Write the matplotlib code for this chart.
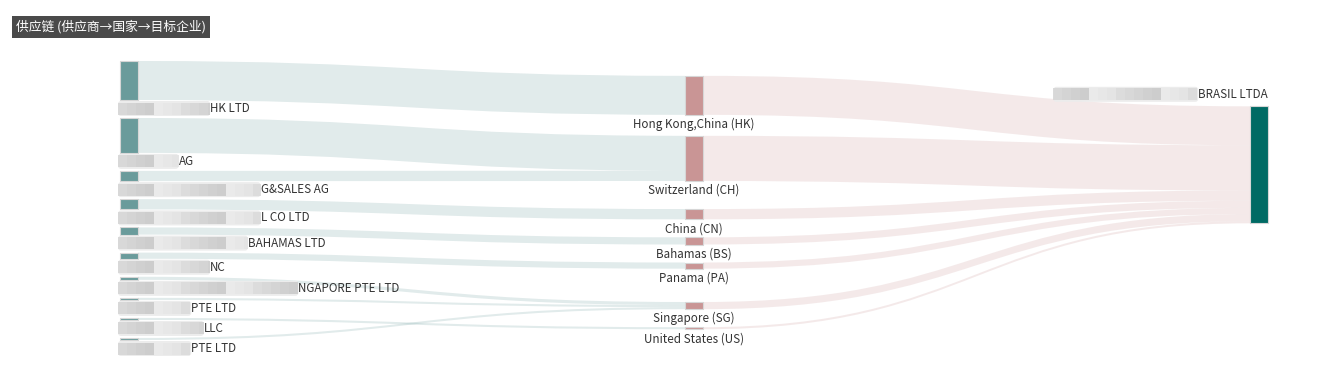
import matplotlib
matplotlib.use('Agg')
import matplotlib.pyplot as plt
from matplotlib.path import Path
from matplotlib.patches import PathPatch, Rectangle, FancyBboxPatch

plt.rcParams['font.family'] = ['Noto Sans CJK SC', 'DejaVu Sans']

# ---- data (supplier names are blurred in the source, only the tail is readable)
suppliers = ['HK LTD', 'AG', 'G&SALES AG', 'L CO LTD', 'BAHAMAS LTD', 'NC',
             'NGAPORE PTE LTD', 'PTE LTD', 'LLC', 'PTE LTD']
supplier_hidden = [14, 9, 22, 22, 20, 14, 28, 11, 13, 11]   # blurred leading chars
supplier_country = ['Hong Kong,China (HK)', 'Switzerland (CH)', 'Switzerland (CH)',
                    'China (CN)', 'Bahamas (BS)', 'Panama (PA)', 'Singapore (SG)',
                    'Singapore (SG)', 'United States (US)', 'Singapore (SG)']
supplier_value = [38, 34, 10, 10, 7, 6, 3, 2, 2, 2]
countries = ['Hong Kong,China (HK)', 'Switzerland (CH)', 'China (CN)', 'Bahamas (BS)',
             'Panama (PA)', 'Singapore (SG)', 'United States (US)']
target = 'BRASIL LTDA'
target_hidden = 23

# ---- style / layout
W, H = 1317, 391
TOP, BOTTOM = 61, 340
COL_X = [120, 685, 1250]
NODE_W = 18
GAP = 18
NODE_COLORS = ['#6a9b9b', '#c99595', '#006a64']
TEXT_C = '#333333'
FS = 8.4
CW = 6.3

# build graph
nodes = []
for i, s in enumerate(suppliers):
    nodes.append({'name': s, 'col': 0, 'value': supplier_value[i], 'idx': i})
cidx = {}
for c in countries:
    cidx[c] = len(nodes)
    nodes.append({'name': c, 'col': 1, 'value': 0})
tidx = len(nodes)
nodes.append({'name': target, 'col': 2, 'value': 0})

edges = []
for i, c in enumerate(supplier_country):
    edges.append([i, cidx[c], supplier_value[i]])
    nodes[cidx[c]]['value'] += supplier_value[i]
for c in countries:
    v = nodes[cidx[c]]['value']
    edges.append([cidx[c], tidx, v])
    nodes[tidx]['value'] += v

columns = [[n for n in nodes if n['col'] == k] for k in range(3)]
ky = min((BOTTOM - TOP - (len(col) - 1) * GAP) / sum(n['value'] for n in col)
         for col in columns)
for col in columns:
    for i, n in enumerate(col):
        n['y'] = TOP + i
        n['dy'] = n['value'] * ky


def center(n):
    return n['y'] + n['dy'] / 2


def resolve():
    for col in columns:
        y0 = TOP
        for n in col:
            d = y0 - n['y']
            if d > 0:
                n['y'] += d
            y0 = n['y'] + n['dy'] + GAP
        d = y0 - GAP - BOTTOM
        if d > 0:
            col[-1]['y'] -= d
            y0 = col[-1]['y']
            for n in reversed(col[:-1]):
                d = n['y'] + n['dy'] + GAP - y0
                if d > 0:
                    n['y'] -= d
                y0 = n['y']


resolve()
alpha = 1.0
for _ in range(32):
    alpha *= 0.99
    for col in reversed(columns):
        for k, n in enumerate(nodes):
            if n['col'] != col[0]['col']:
                continue
            outs = [e for e in edges if e[0] == k]
            if outs:
                y = sum(center(nodes[e[1]]) * e[2] for e in outs) / sum(e[2] for e in outs)
                n['y'] += (y - center(n)) * alpha
    resolve()
    for col in columns:
        for k, n in enumerate(nodes):
            if n['col'] != col[0]['col']:
                continue
            ins = [e for e in edges if e[1] == k]
            if ins:
                y = sum(center(nodes[e[0]]) * e[2] for e in ins) / sum(e[2] for e in ins)
                n['y'] += (y - center(n)) * alpha
    resolve()

# link offsets on each node
link_pos = {}
for k, n in enumerate(nodes):
    outs = sorted([j for j, e in enumerate(edges) if e[0] == k], key=lambda j: nodes[edges[j][1]]['y'])
    y = n['y']
    for j in outs:
        link_pos.setdefault(j, {})['s'] = y
        y += edges[j][2] * ky
    ins = sorted([j for j, e in enumerate(edges) if e[1] == k], key=lambda j: nodes[edges[j][0]]['y'])
    y = n['y']
    for j in ins:
        link_pos.setdefault(j, {})['t'] = y
        y += edges[j][2] * ky

fig = plt.figure(figsize=(W / 100, H / 100), dpi=100)
ax = fig.add_axes([0, 0, 1, 1])
ax.set_xlim(0, W)
ax.set_ylim(H, 0)
ax.axis('off')

for j, (s, t, v) in enumerate(edges):
    x0 = COL_X[nodes[s]['col']] + NODE_W
    x1 = COL_X[nodes[t]['col']]
    xm = (x0 + x1) / 2
    s0 = link_pos[j]['s']
    t0 = link_pos[j]['t']
    h = v * ky
    verts = [(x0, s0), (xm, s0), (xm, t0), (x1, t0), (x1, t0 + h),
             (xm, t0 + h), (xm, s0 + h), (x0, s0 + h), (x0, s0)]
    codes = [Path.MOVETO, Path.CURVE4, Path.CURVE4, Path.CURVE4, Path.LINETO,
             Path.CURVE4, Path.CURVE4, Path.CURVE4, Path.CLOSEPOLY]
    ax.add_patch(PathPatch(Path(verts, codes), facecolor=NODE_COLORS[nodes[s]['col']],
                           alpha=0.2, lw=0, zorder=1))

for n in nodes:
    ax.add_patch(Rectangle((COL_X[n['col']], n['y']), NODE_W, n['dy'],
                           facecolor=NODE_COLORS[n['col']], edgecolor='#d6d6d6',
                           lw=0.8, zorder=3))

mosaic = ['#d4d4d4', '#c6c6c6', '#e2e2e2', '#cfcfcf', '#eaeaea', '#d9d9d9', '#c9c9c9', '#e6e6e6']


def blur(x0, x1, yc):
    ax.add_patch(FancyBboxPatch((x0 + 3, yc - 4.5), max(x1 - x0 - 6, 1), 9,
                                boxstyle='round,pad=3', fc='#ececec', ec='none', zorder=4))
    x = x0
    k = 0
    while x < x1 - 2:
        w = min(9, x1 - x)
        ax.add_patch(Rectangle((x, yc - 6), w, 12, fc=mosaic[k % len(mosaic)],
                               ec='none', alpha=0.8, zorder=4))
        x += 9
        k += 3

# supplier labels (below node, left aligned)
for i, n in enumerate(columns[0]):
    yc = n['y'] + n['dy'] + 8.5
    x_start = COL_X[0] + 2
    x_txt = x_start + supplier_hidden[i] * CW
    blur(x_start - 4, x_txt, yc)
    ax.text(x_txt, yc, n['name'], fontsize=FS, color=TEXT_C, ha='left', va='center', zorder=5)

# country labels (below node, centred)
for n in columns[1]:
    ax.text(COL_X[1] + NODE_W / 2, n['y'] + n['dy'] + 9.5, n['name'], fontsize=FS,
            color=TEXT_C, ha='center', va='center', zorder=5)

# target label (above node, right aligned)
tn = columns[2][0]
t = ax.text(COL_X[2] + NODE_W, tn['y'] - 12, tn['name'], fontsize=FS, color=TEXT_C,
            ha='right', va='center', zorder=5)
bb = t.get_window_extent(fig.canvas.get_renderer())
blur(bb.x0 - target_hidden * CW, bb.x0, tn['y'] - 12)

ax.text(16, 27, '供应链 (供应商→国家→目标企业)', fontsize=9.2, color='white',
        ha='left', va='center', zorder=6,
        bbox=dict(boxstyle='square,pad=0.3', fc='#4a4a4a', ec='none'))

fig.savefig('out.png', dpi=100, facecolor='white')
